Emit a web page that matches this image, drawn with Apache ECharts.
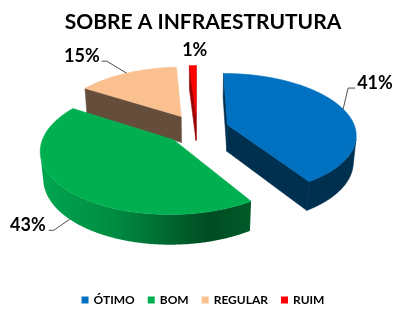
<!DOCTYPE html>
<html><head><meta charset="utf-8">
<script src="https://cdn.jsdelivr.net/npm/echarts@6/dist/echarts.min.js"></script>
<style>html,body{margin:0;padding:0;background:#fff}#c{width:406px;height:317px}</style>
</head><body><div id="c"></div>
<script>
// ---- data ----
const chartTitle = 'SOBRE A INFRAESTRUTURA';
const categories = ['ÓTIMO', 'BOM', 'REGULAR', 'RUIM'];
const values = [41, 43, 15, 1];
const labelTexts = ['41%', '43%', '15%', '1%'];

// ---- styles ----
const topColors = ['#0070C0', '#00B050', '#FAC090', '#FF0000'];
const wallFills = [
  '#00304F',
  [['0', '#00A650'], ['0.35', '#008C42'], ['0.8', '#004C22'], ['1', '#005A29']],
  '#654D3B',
  '#8B0000'
];
const cutFills = ['#00304F', '#004C22', '#654D3B', '#9A0000'];
const drawOrder = [3, 4, 2, 1]; // z per slice (back to front)
const labelLayout = [
  { elbow: [5, -21], end: [12, -21], align: 'left', text: [14, -26] },
  { elbow: [-16, 11], end: [-21, 11], align: 'right', text: [-24, 6] },
  { elbow: [-20, -12], end: [-25, -12], align: 'right', text: [-27, -17] },
  { elbow: null, end: null, align: 'center', text: [2, -15] }
];
const G = { cx: 197, cy: 129, S: 128, D: 6, tilt: 28, H: 0.24, explode: 0.25 };

const total = values.reduce((a, b) => a + b, 0);
const starts = [];
let acc = 0;
values.forEach(v => { starts.push(acc / total * 360); acc += v; });

const tr = G.tilt * Math.PI / 180, tc = Math.cos(tr), ts = Math.sin(tr);
function proj(u, v, h) {
  const depth = G.D + v * tc - h * ts;
  const yUp = h * tc + v * ts;
  return [G.cx + G.S * G.D * u / depth, G.cy - G.S * G.D * yUp / depth];
}
function facing(P, n) { // P,n in (u,h,v)
  const cam = [0, G.D * ts, -G.D * tc];
  return (cam[0] - P[0]) * n[0] + (cam[1] - P[1]) * n[1] + (cam[2] - P[2]) * n[2] > 0;
}
function fillOf(f) {
  if (typeof f === 'string') return f;
  return new echarts.graphic.LinearGradient(0, 0, 1, 0, f.map(s => ({ offset: +s[0], color: s[1] })));
}

function buildSlice(i) {
  const a0 = starts[i] * Math.PI / 180;
  const a1 = (starts[i] + values[i] / total * 360) * Math.PI / 180;
  const mid = (a0 + a1) / 2;
  const ou = G.explode * Math.sin(mid), ov = G.explode * Math.cos(mid);
  const H = G.H;
  const rim = (t, h) => proj(ou + Math.sin(t), ov + Math.cos(t), h);
  const apex = h => proj(ou, ov, h);
  const children = [];
  const poly = (pts, fill) => children.push({
    type: 'polygon', shape: { points: pts },
    style: { fill: fill, stroke: typeof fill === 'string' ? fill : null, lineWidth: 0.6, lineJoin: 'round' }
  });
  const n = Math.max(4, Math.ceil((a1 - a0) / (0.5 * Math.PI / 180)));
  const ts_ = [];
  for (let k = 0; k <= n; k++) ts_.push(a0 + (a1 - a0) * k / n);
  // outer wall
  let run = [];
  const flush = () => {
    if (run.length > 1) {
      const tops = run.map(t => rim(t, 0));
      const bots = run.map(t => rim(t, -H)).reverse();
      poly(tops.concat(bots), fillOf(wallFills[i]));
    }
    run = [];
  };
  ts_.forEach(t => {
    const P = [ou + Math.sin(t), -H / 2, ov + Math.cos(t)];
    if (facing(P, [Math.sin(t), 0, Math.cos(t)])) run.push(t); else flush();
  });
  flush();
  // cut faces
  const Ps = [ou + 0.5 * Math.sin(a0), -H / 2, ov + 0.5 * Math.cos(a0)];
  if (facing(Ps, [-Math.cos(a0), 0, Math.sin(a0)])) poly([apex(0), rim(a0, 0), rim(a0, -H), apex(-H)], cutFills[i]);
  const Pe = [ou + 0.5 * Math.sin(a1), -H / 2, ov + 0.5 * Math.cos(a1)];
  if (facing(Pe, [Math.cos(a1), 0, -Math.sin(a1)])) poly([apex(0), rim(a1, 0), rim(a1, -H), apex(-H)], cutFills[i]);
  // top face
  poly([apex(0)].concat(ts_.map(t => rim(t, 0))), topColors[i]);
  // label
  const anchor = rim(mid, Math.cos(mid) >= 0 ? 0 : -H);
  const L = labelLayout[i];
  if (L.elbow) {
    children.push({
      type: 'polyline', z2: 10,
      shape: { points: [anchor, [anchor[0] + L.elbow[0], anchor[1] + L.elbow[1]], [anchor[0] + L.end[0], anchor[1] + L.end[1]]] },
      style: { stroke: '#3a3a3a', lineWidth: 0.9, fill: null }
    });
  }
  children.push({
    type: 'text', z2: 11, x: anchor[0] + L.text[0], y: anchor[1] + L.text[1],
    style: { text: labelTexts[i], fill: '#000', font: 'bold 18px Lato', align: L.align, verticalAlign: 'middle' }
  });
  return { type: 'group', children };
}

const chart = echarts.init(document.getElementById('c'), null, { renderer: 'canvas' });
chart.setOption({
  animation: false,
  backgroundColor: '#fff',
  title: {
    text: chartTitle, left: 'center', top: 7,
    textStyle: { fontFamily: 'Lato', fontWeight: 'bold', fontSize: 21, color: '#000' }
  },
  legend: {
    data: categories, left: 'center', top: 289, icon: 'rect',
    itemWidth: 7, itemHeight: 7, itemGap: 13,
    textStyle: { fontFamily: 'Lato', fontWeight: 'bold', fontSize: 12, color: '#000' }
  },
  series: categories.map((name, i) => ({
    type: 'custom', name, coordinateSystem: 'none', z: drawOrder[i], silent: true,
    itemStyle: { color: topColors[i] },
    data: [[values[i]]],
    renderItem: () => buildSlice(i)
  }))
});
</script></body></html>
